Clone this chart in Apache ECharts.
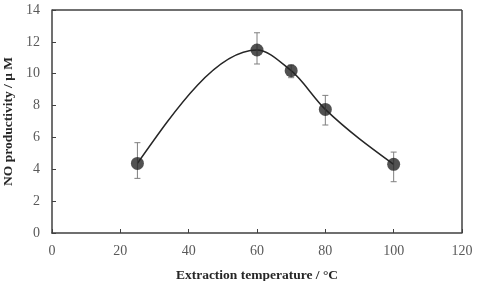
<!DOCTYPE html>
<html>
<head>
<meta charset="utf-8">
<script src="https://cdn.jsdelivr.net/npm/echarts@6/dist/echarts.min.js"></script>
<style>
  html, body { margin: 0; padding: 0; background: #fff; }
  #main { width: 482px; height: 281px; }
</style>
</head>
<body>
<div id="main"></div>
<script>
// 抽出温度と NO 産生量
const temps = [25, 60, 70, 80, 100]
const noValues = [4.37, 11.49, 10.19, 7.76, 4.31]
const errLow = [3.43, 10.61, 9.75, 6.78, 3.22]
const errHigh = [5.67, 12.57, 10.55, 8.64, 5.08]

const myChart = echarts.init(document.getElementById('main'))
const labelFont = 'Liberation Serif'

// 単調性を保つ3次エルミート補間の接線 (データ空間)
function tangents(xs, ys) {
  const n = xs.length
  const h = [], d = []
  for (let i = 0; i < n - 1; i++) {
    h.push(xs[i + 1] - xs[i])
    d.push((ys[i + 1] - ys[i]) / h[i])
  }
  const m = new Array(n).fill(0)
  for (let i = 1; i < n - 1; i++) {
    if (d[i - 1] * d[i] <= 0) continue
    const w1 = 2 * h[i] + h[i - 1]
    const w2 = h[i] + 2 * h[i - 1]
    m[i] = (w1 + w2) / (w1 / d[i - 1] + w2 / d[i])
  }
  m[0] = (3 * d[0] - m[1]) / 2
  m[n - 1] = (3 * d[n - 2] - m[n - 2]) / 2
  return m
}

function renderCurve(params, api) {
  if (params.dataIndex !== 0) return null
  const m = tangents(temps, noValues)
  const p0 = api.coord([temps[0], noValues[0]])
  let d = 'M' + p0[0] + ' ' + p0[1]
  for (let i = 0; i < temps.length - 1; i++) {
    const h = temps[i + 1] - temps[i]
    const c1 = api.coord([temps[i] + h / 3, noValues[i] + m[i] * h / 3])
    const c2 = api.coord([temps[i + 1] - h / 3, noValues[i + 1] - m[i + 1] * h / 3])
    const p = api.coord([temps[i + 1], noValues[i + 1]])
    d += ' C' + c1[0] + ' ' + c1[1] + ' ' + c2[0] + ' ' + c2[1] + ' ' + p[0] + ' ' + p[1]
  }
  return {
    type: 'path',
    shape: { pathData: d },
    style: { stroke: '#262626', lineWidth: 1.5, fill: null }
  }
}

myChart.setOption({
  animation: false,
  grid: { left: 52, right: 20, top: 10, bottom: 48, outerBoundsMode: 'none', containLabel: false },
  xAxis: {
    type: 'value',
    min: 0,
    max: 120,
    interval: 20,
    name: 'Extraction temperature / °C',
    nameLocation: 'middle',
    nameGap: 36,
    nameTextStyle: { fontFamily: labelFont, fontWeight: 'bold', fontSize: 13.5, color: '#262626' },
    axisLine: { lineStyle: { color: '#404040', width: 1.5 } },
    axisTick: { inside: true, length: 4, lineStyle: { color: '#404040' } },
    axisLabel: { fontFamily: labelFont, fontSize: 14, color: '#595959', margin: 11 },
    splitLine: { show: false }
  },
  yAxis: {
    type: 'value',
    min: 0,
    max: 14,
    interval: 2,
    name: 'NO productivity / μ M',
    nameLocation: 'middle',
    nameGap: 33,
    nameTextStyle: { fontFamily: labelFont, fontWeight: 'bold', fontSize: 13.5, color: '#262626' },
    axisLine: { show: true, lineStyle: { color: '#404040', width: 1.5 } },
    axisTick: { show: true, inside: true, length: 4, lineStyle: { color: '#404040' } },
    axisLabel: { fontFamily: labelFont, fontSize: 14, color: '#595959', margin: 12 },
    splitLine: { show: false }
  },
  series: [
    {
      // 外枠 (上・右)
      type: 'line',
      data: [],
      markLine: {
        silent: true,
        symbol: 'none',
        label: { show: false },
        lineStyle: { color: '#404040', width: 1.5, type: 'solid' },
        data: [
          [{ coord: [0, 14] }, { coord: [120, 14] }],
          [{ coord: [120, 0] }, { coord: [120, 14] }]
        ]
      }
    },
    {
      type: 'custom',
      name: 'curve',
      z: 2,
      renderItem: renderCurve,
      data: temps.map((t, i) => [t, noValues[i]])
    },
    {
      type: 'custom',
      name: 'error',
      z: 3,
      renderItem: function(params, api) {
        const x = api.value(0)
        const lo = api.coord([x, api.value(1)])
        const hi = api.coord([x, api.value(2)])
        const w = 3
        const style = { stroke: '#7f7f7f', lineWidth: 1 }
        return {
          type: 'group',
          children: [
            { type: 'line', shape: { x1: lo[0], y1: lo[1], x2: hi[0], y2: hi[1] }, style: style },
            { type: 'line', shape: { x1: lo[0] - w, y1: lo[1], x2: lo[0] + w, y2: lo[1] }, style: style },
            { type: 'line', shape: { x1: hi[0] - w, y1: hi[1], x2: hi[0] + w, y2: hi[1] }, style: style }
          ]
        }
      },
      data: temps.map((t, i) => [t, errLow[i], errHigh[i]])
    },
    {
      type: 'scatter',
      name: 'NO',
      z: 4,
      symbol: 'circle',
      symbolSize: 13,
      itemStyle: { color: '#262626' },
      data: temps.map((t, i) => [t, noValues[i]])
    }
  ]
})
</script>
</body>
</html>
